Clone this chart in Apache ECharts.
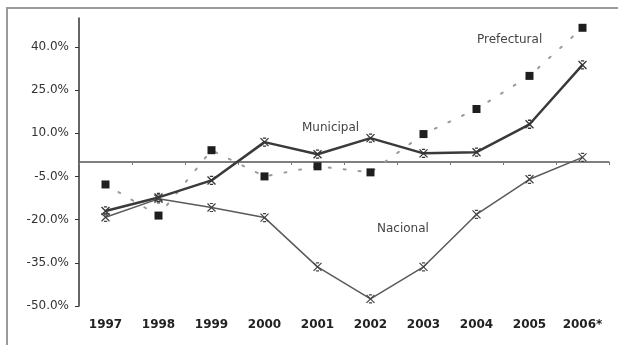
<!DOCTYPE html>
<html>
<head>
<meta charset="utf-8">
<style>
  html, body { margin: 0; padding: 0; background: #fff; overflow: hidden; }
  #chart { width: 618px; height: 345px; }
</style>
<script src="https://cdn.jsdelivr.net/npm/echarts@6/dist/echarts.min.js"></script>
</head>
<body>
<div id="chart"></div>
<script>
// Annual growth rates, 1997–2006*
const years = ['1997', '1998', '1999', '2000', '2001', '2002', '2003', '2004', '2005', '2006*'];
const prefectural = [-7.8, -18.6, 4.1, -5.0, -1.5, -3.6, 9.7, 18.4, 29.9, 46.6];
const municipal = [-17.0, -12.3, -6.4, 6.9, 2.7, 8.3, 3.0, 3.4, 13.1, 33.7];
const nacional = [-19.2, -12.8, -15.8, -19.3, -36.4, -47.5, -36.4, -18.2, -6.0, 1.6];

// Value axis range and step
const yMin = -50;
const yMax = 50;
const yStep = 15;

// Star-like cross marker
const crossMark = 'path://M0,0L10,10M10,0L0,10M3,0L7,0M3,10L7,10';

const chart = echarts.init(document.getElementById('chart'), null, { renderer: 'canvas' });

const font = 'DejaVu Sans, Verdana, sans-serif';

chart.setOption({
  animation: false,
  backgroundColor: '#ffffff',
  grid: { left: 79, right: 9, top: 18, bottom: 39, containLabel: false },
  xAxis: [
    {
      type: 'category',
      data: years,
      position: 'bottom',
      boundaryGap: true,
      axisLine: { show: false, onZero: false },
      axisTick: { show: false },
      axisLabel: {
        color: '#222',
        fontFamily: font,
        fontWeight: 'bold',
        fontSize: 12,
        margin: 13
      },
      splitLine: { show: false }
    },
    {
      type: 'category',
      data: years,
      position: 'top',
      boundaryGap: true,
      axisLine: { show: true, onZero: true, lineStyle: { color: '#555', width: 1.5 } },
      axisTick: { show: true, length: 3, inside: true, lineStyle: { color: '#777' } },
      axisLabel: { show: false },
      splitLine: { show: false }
    }
  ],
  yAxis: {
    type: 'value',
    min: yMin,
    max: yMax,
    interval: yStep,
    axisLine: { show: true, onZero: false, lineStyle: { color: '#333', width: 1.5 } },
    axisTick: { show: true, length: 4, lineStyle: { color: '#333' } },
    axisLabel: {
      color: '#333',
      fontFamily: font,
      fontSize: 12,
      margin: 10,
      showMaxLabel: false,
      formatter: v => v.toFixed(1) + '%'
    },
    splitLine: { show: false }
  },
  series: [
    {
      name: 'Prefectural',
      type: 'line',
      data: prefectural,
      symbol: 'rect',
      symbolSize: 8,
      itemStyle: { color: '#1e1e1e' },
      lineStyle: { color: '#9a9a9a', width: 2, type: [2, 13], cap: 'round' },
      z: 3
    },
    {
      name: 'Municipal',
      type: 'line',
      data: municipal,
      symbol: crossMark,
      symbolSize: 8,
      itemStyle: { color: 'none', borderColor: '#333', borderWidth: 1.3 },
      lineStyle: { color: '#3a3a3a', width: 2.5 },
      z: 4
    },
    {
      name: 'Nacional',
      type: 'line',
      data: nacional,
      symbol: crossMark,
      symbolSize: 8,
      itemStyle: { color: 'none', borderColor: '#444', borderWidth: 1.2 },
      lineStyle: { color: '#5a5a5a', width: 1.5 },
      z: 4
    }
  ],
  graphic: [
    {
      type: 'line',
      shape: { x1: 7, y1: 8, x2: 7, y2: 345 },
      style: { stroke: '#9a9a9a', lineWidth: 2 },
      silent: true
    },
    {
      type: 'line',
      shape: { x1: 6, y1: 8, x2: 618, y2: 8 },
      style: { stroke: '#9a9a9a', lineWidth: 2 },
      silent: true
    },
    {
      type: 'text', left: 302, top: 122,
      style: { text: 'Municipal', fill: '#444', font: '12px ' + font }
    },
    {
      type: 'text', left: 477, top: 34,
      style: { text: 'Prefectural', fill: '#444', font: '12px ' + font }
    },
    {
      type: 'text', left: 377, top: 223,
      style: { text: 'Nacional', fill: '#444', font: '12px ' + font }
    }
  ]
});
</script>
</body>
</html>
